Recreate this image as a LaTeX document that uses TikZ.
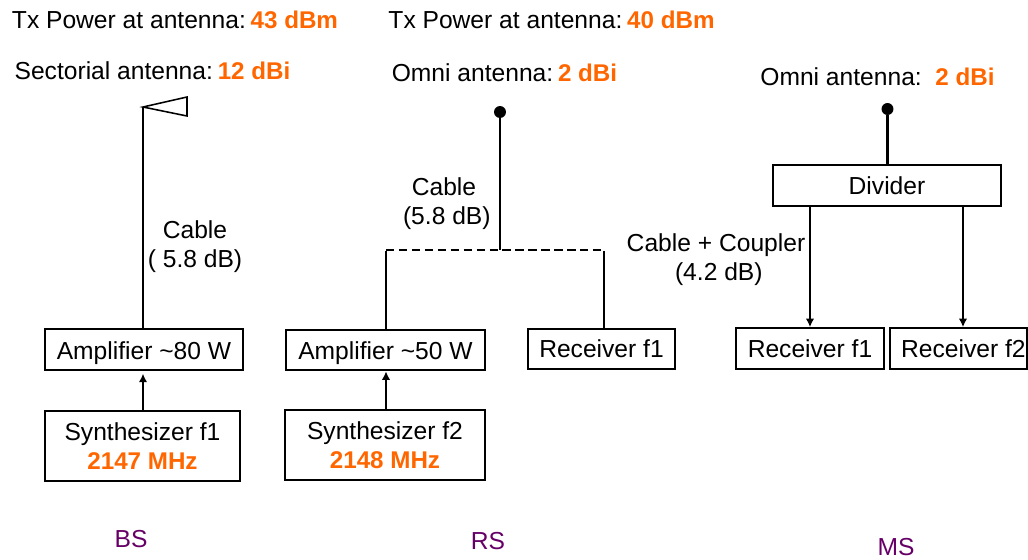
\documentclass[tikz,border=0pt]{standalone}
\usepackage{fontspec}
\setmainfont{Liberation Sans}
\usepackage{xcolor}
\usetikzlibrary{arrows.meta}
\definecolor{gainorange}{HTML}{FF6600}
\definecolor{sitepurple}{HTML}{660066}
\newcommand{\gainval}[1]{\textcolor{gainorange}{\textbf{\fontsize{17.2}{20.6}\selectfont #1}}}
\newcommand{\gaingap}{\hspace{3.4pt}}
\tikzset{
  lbl/.style={inner sep=0pt, align=center, font=\fontsize{17.5}{20.6}\selectfont},
  blockbox/.style={draw, line width=1.4pt, inner sep=0pt, align=center, font=\fontsize{17.5}{20.6}\selectfont},
  ampbox/.style={blockbox, minimum width=141pt, minimum height=29pt, text height=14pt, text depth=0pt},
  sitelbl/.style={lbl, text=sitepurple},
  antdot/.style={circle, fill=black, inner sep=0pt, minimum size=8.5pt},
  feed/.style={line width=1.2pt, -{Latex[length=6pt, width=6pt]}}
}
\begin{document}
\begin{tikzpicture}[x=.025cm, y=-.025cm]
        \useasboundingbox (0, 0) rectangle (1028, 560);
        % header labels
        \node[lbl] (txbs) at (175, 20) {Tx Power at antenna:\gaingap\gainval{43 dBm}};
        \node[lbl] (txrs) at (551.5, 20) {Tx Power at antenna:\gaingap\gainval{40 dBm}};
        \node[lbl] (antbs) at (152.5, 71) {Sectorial antenna:\gaingap\gainval{12 dBi}};
        \node[lbl] (antrs) at (504.5, 73) {Omni antenna:\gaingap\gainval{2 dBi}};
        \node[lbl] (antms) at (877.5, 77) {Omni antenna:\ \ \gainval{2 dBi}};
        % BS
        \node[ampbox] (ampbs) at (144, 349.5) {Amplifier \textasciitilde 80 W};
        \node[blockbox, minimum width=139pt, minimum height=50pt] (synbs) at (142.5, 446) {Synthesizer f1\\\gainval{2147 MHz}};
        \coordinate (tipbs) at (143, 107);
        \draw[line width=1.1pt] (ampbs.north -| tipbs) -- (tipbs);
        \draw[line width=1.1pt, line join=miter] (tipbs) -- (187, 97) -- (187, 116) -- cycle;
        \draw[feed] (synbs.north -| tipbs) -- ([yshift=-2pt]ampbs.south -| tipbs);
        \node[lbl] (cablebs) at (195, 246.5) {Cable\\( 5.8 dB)};
        % RS
        \node[ampbox] (amprs) at (385.5, 350) {Amplifier \textasciitilde 50 W};
        \node[blockbox, minimum width=142pt, minimum height=50pt] (synrs) at (385, 445) {Synthesizer f2\\\gainval{2148 MHz}};
        \node[blockbox, minimum width=105pt, minimum height=29pt] (recrs) at (601.5, 349) {Receiver f1};
        \node[antdot] (dotrs) at (500, 112) {};
        \coordinate (busrs) at (500, 250);
        \coordinate (busl) at (386, 250);
        \coordinate (busr) at (604, 250);
        \draw[line width=2pt] (dotrs) -- (busrs);
        \draw[line width=1.3pt, dash pattern=on 6pt off 3.2pt] (busl) -- (busr);
        \draw[line width=2pt] (amprs.north -| busl) -- ([yshift=-1pt]busl);
        \draw[line width=2pt] (recrs.north -| busr) -- ([yshift=-1pt]busr);
        \draw[feed] (synrs.north -| busl) -- (amprs.south -| busl);
        \node[lbl] (cablers) at (444, 204) {Cable\\\hspace{4pt}(5.8 dB)};
        % MS
        \node[blockbox, minimum width=162pt, minimum height=29pt] (divms) at (887, 185.5) {Divider};
        \node[blockbox, minimum width=105pt, minimum height=29pt] (recmsa) at (810, 348.5) {Receiver f1};
        \node[blockbox, minimum width=98pt, minimum height=29pt] (recmsb) at (958.5, 348.5) {\hspace{7pt}Receiver f2};
        \node[antdot] (dotms) at (887.5, 109) {};
        \draw[line width=2pt] (dotms) -- (divms.north -| dotms);
        \draw[feed] (divms.south -| recmsa.north) -- (recmsa.north);
        \draw[feed] (divms.south -| 963, 0) -- (recmsb.north -| 963, 0);
        \node[lbl] (cablems) at (716, 260) {Cable + Coupler\\\hspace{4pt}(4.2 dB)};
        % sites
        \node[sitelbl] (sitebs) at (131, 539) {BS};
        \node[sitelbl] (siters) at (488, 541) {RS};
        \node[sitelbl] (sitems) at (896, 547) {MS};
\end{tikzpicture}
\end{document}
